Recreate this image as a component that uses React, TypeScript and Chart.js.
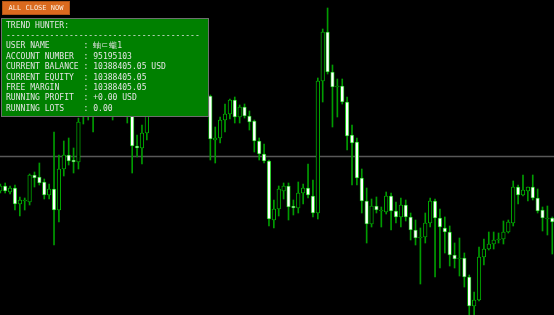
import React, { useEffect, useRef } from "react";
import { Chart, registerables } from "chart.js";

Chart.register(...registerables);

// OHLC price series, oldest bar first
const opens = [
  1.1809, 1.1814, 1.1808, 1.1812, 1.1796, 1.1799, 1.1798, 1.1825, 1.1823, 1.1818,
  1.1805, 1.1811, 1.179, 1.1831, 1.1845, 1.184, 1.1838, 1.1895, 1.1888, 1.1895,
  1.1912, 1.192, 1.1925, 1.1918, 1.19, 1.1908, 1.1915, 1.1904, 1.1854, 1.1852,
  1.1867, 1.189, 1.1905, 1.1915, 1.1908, 1.1925, 1.1932, 1.1922, 1.193, 1.1918,
  1.1924, 1.1912, 1.1916, 1.1904, 1.186, 1.1862, 1.188, 1.1886, 1.19, 1.1883,
  1.1893, 1.1884, 1.1879, 1.1859, 1.1846, 1.1839, 1.178, 1.1791, 1.1809, 1.1814,
  1.1794, 1.1792, 1.1807, 1.1812, 1.1804, 1.1787, 1.1919, 1.1968, 1.1928, 1.1913,
  1.1914, 1.1898, 1.1865, 1.1858, 1.1822, 1.1799, 1.1776, 1.1794, 1.1789, 1.1788,
  1.1804, 1.1789, 1.1783, 1.1795, 1.1783, 1.177, 1.1762, 1.1763, 1.1777, 1.1799,
  1.1782, 1.1772, 1.1768, 1.1745, 1.1741, 1.1742, 1.1723, 1.1694, 1.17, 1.1743,
  1.1751, 1.1756, 1.176, 1.1761, 1.1768, 1.1777, 1.1813, 1.1805, 1.1809, 1.1813,
  1.1802, 1.179, 1.1781, 1.1782,
];
const highs = [
  1.1816, 1.1817, 1.1814, 1.1815, 1.1803, 1.1802, 1.1826, 1.1828, 1.1837, 1.1821,
  1.1816, 1.1868, 1.1845, 1.1859, 1.1862, 1.1852, 1.1882, 1.1905, 1.1908, 1.1918,
  1.193, 1.1934, 1.1932, 1.1924, 1.1915, 1.1922, 1.192, 1.191, 1.1865, 1.1875,
  1.19, 1.191, 1.1922, 1.192, 1.193, 1.194, 1.1938, 1.1934, 1.1936, 1.1928,
  1.193, 1.192, 1.1922, 1.1905, 1.1873, 1.1883, 1.1896, 1.1901, 1.1903, 1.1895,
  1.1896, 1.1889, 1.188, 1.1862, 1.1856, 1.184, 1.18, 1.1814, 1.1817, 1.1817,
  1.18, 1.1818, 1.1816, 1.1836, 1.182, 1.1922, 1.1971, 1.1992, 1.1935, 1.1921,
  1.1921, 1.1903, 1.1875, 1.1862, 1.1831, 1.1812, 1.1801, 1.1803, 1.1793, 1.1808,
  1.1807, 1.1798, 1.1802, 1.18, 1.1787, 1.178, 1.1772, 1.1787, 1.1802, 1.1801,
  1.1791, 1.1783, 1.1774, 1.1757, 1.1762, 1.1747, 1.1725, 1.1708, 1.1753, 1.1761,
  1.1768, 1.1768, 1.1767, 1.1779, 1.178, 1.1819, 1.1815, 1.1825, 1.1813, 1.1825,
  1.1811, 1.1793, 1.1794, 1.1783,
];
const lows = [
  1.1807, 1.1807, 1.1806, 1.179, 1.1784, 1.179, 1.1795, 1.1813, 1.1815, 1.1801,
  1.1801, 1.1755, 1.1778, 1.1824, 1.1835, 1.1827, 1.1831, 1.1876, 1.188, 1.1868,
  1.19, 1.1908, 1.1905, 1.188, 1.1892, 1.1896, 1.1877, 1.1827, 1.1843, 1.1836,
  1.186, 1.1886, 1.19, 1.1902, 1.1904, 1.1918, 1.1916, 1.1914, 1.191, 1.1908,
  1.1905, 1.19, 1.1896, 1.184, 1.1837, 1.1857, 1.1868, 1.1881, 1.1877, 1.1877,
  1.1882, 1.187, 1.1848, 1.184, 1.1837, 1.1774, 1.1772, 1.1784, 1.1801, 1.178,
  1.1785, 1.1787, 1.1796, 1.1802, 1.1783, 1.1781, 1.1898, 1.1926, 1.1873, 1.1883,
  1.1896, 1.185, 1.1815, 1.1815, 1.1787, 1.1757, 1.1773, 1.1787, 1.1773, 1.1786,
  1.177, 1.1777, 1.1773, 1.1779, 1.176, 1.1755, 1.1716, 1.1757, 1.1773, 1.1723,
  1.1732, 1.1747, 1.1734, 1.1732, 1.1724, 1.1713, 1.1684, 1.1684, 1.1699, 1.1735,
  1.175, 1.1751, 1.1757, 1.1756, 1.1767, 1.1774, 1.1796, 1.1804, 1.1799, 1.18,
  1.1787, 1.1769, 1.1765, 1.1746,
];
const closes = [
  1.1814, 1.1809, 1.1812, 1.1796, 1.18, 1.18, 1.1825, 1.1822, 1.1817, 1.1805,
  1.1811, 1.179, 1.1831, 1.1845, 1.1839, 1.1838, 1.1878, 1.1885, 1.19, 1.1912,
  1.192, 1.1925, 1.1918, 1.19, 1.1908, 1.1915, 1.1904, 1.1854, 1.1852, 1.1867,
  1.189, 1.1905, 1.1915, 1.1908, 1.1925, 1.1932, 1.1922, 1.193, 1.1918, 1.1924,
  1.1912, 1.1916, 1.1904, 1.1861, 1.1862, 1.188, 1.1886, 1.19, 1.1883, 1.1893,
  1.1884, 1.1878, 1.1859, 1.1846, 1.1839, 1.1781, 1.1791, 1.1811, 1.1814, 1.1793,
  1.1792, 1.1807, 1.1812, 1.1805, 1.1787, 1.1919, 1.1968, 1.1928, 1.1913, 1.1914,
  1.1898, 1.1864, 1.1857, 1.1822, 1.1799, 1.1776, 1.1794, 1.179, 1.179, 1.1804,
  1.1789, 1.1783, 1.1795, 1.1783, 1.177, 1.1762, 1.1763, 1.1777, 1.1799, 1.1782,
  1.1773, 1.1768, 1.1745, 1.1741, 1.1742, 1.1723, 1.1694, 1.17, 1.1743, 1.1751,
  1.1756, 1.176, 1.1761, 1.1768, 1.1778, 1.1813, 1.1805, 1.181, 1.1813, 1.1802,
  1.1789, 1.1782, 1.1782, 1.1778,
];

// current bid level shown as a horizontal line
const bidPrice = 1.18435;

// visible price / bar window
const priceMin = 1.1685;
const priceMax = 1.2;
const barMin = -0.06;
const barMax = 113.35;

// account info panel
const panelTitle = "TREND HUNTER:";
const panelDivider = "-".repeat(40);
const panelLabels = [
  "USER NAME",
  "ACCOUNT NUMBER",
  "CURRENT BALANCE",
  "CURRENT EQUITY",
  "FREE MARGIN",
  "RUNNING PROFIT",
  "RUNNING LOTS",
];
const panelValues = [
  "蚰ㄷ蠬1",
  "95195103",
  "10388405.05 USD",
  "10388405.05",
  "10388405.05",
  "+0.00 USD",
  "0.00",
];
const buttonLabel = "ALL CLOSE NOW";

const CANDLE_GREEN = "#00c000";
const WICK_GREEN = "#009c00";

function CandleChart() {
  const canvasRef = useRef<HTMLCanvasElement | null>(null);

  useEffect(() => {
    document.body.style.margin = "0";
    const canvas = canvasRef.current;
    if (!canvas) return;

    const idx = opens.map((_, i) => i);
    const bullish = idx.map((i) => closes[i] > opens[i]);

    const chart = new Chart(canvas, {
      type: "bar",
      data: {
        datasets: [
          {
            // candle bodies
            type: "bar",
            data: idx.map((i) => ({ x: i, y: [opens[i], closes[i]] })) as any,
            backgroundColor: bullish.map((b) => (b ? "#000000" : "#ffffff")),
            borderColor: CANDLE_GREEN,
            borderWidth: 0.9,
            borderSkipped: false,
            barThickness: 3.6,
            grouped: false,
            order: 0,
          } as any,
          {
            // high-low wicks
            type: "bar",
            data: idx.map((i) => ({ x: i, y: [lows[i], highs[i]] })) as any,
            backgroundColor: WICK_GREEN,
            borderWidth: 0,
            barThickness: 1,
            grouped: false,
            order: 1,
          } as any,
          {
            type: "line",
            data: [
              { x: barMin, y: bidPrice },
              { x: barMax, y: bidPrice },
            ],
            borderColor: "#585858",
            borderWidth: 1.6,
            pointRadius: 0,
            order: 2,
          } as any,
        ],
      },
      options: {
        responsive: false,
        animation: false,
        events: [],
        layout: { padding: 0 },
        plugins: {
          legend: { display: false },
          tooltip: { enabled: false },
        },
        scales: {
          x: {
            type: "linear",
            display: false,
            min: barMin,
            max: barMax,
            offset: false,
          },
          y: {
            type: "linear",
            display: false,
            min: priceMin,
            max: priceMax,
          },
        },
      },
    });
    return () => chart.destroy();
  }, []);

  return (
    <canvas
      ref={canvasRef}
      width={554}
      height={315}
      style={{ position: "absolute", left: 0, top: 0, width: 554, height: 315 }}
    />
  );
}

const monoFont = "'DejaVu Sans Mono', 'Liberation Mono', monospace";

function InfoPanel() {
  const lines = [
    panelTitle,
    panelDivider,
    ...panelLabels.map((l, i) => l.padEnd(16, " ") + ": " + panelValues[i]),
  ];
  const lineHeight = 10.4;
  return (
    <div
      style={{
        position: "absolute",
        left: 1,
        top: 18,
        width: 206,
        height: 97,
        background: "#008000",
        border: "1px solid #6e6e6e",
      }}
    >
      {lines.map((t, i) => (
        <div
          key={i}
          style={{
            position: "absolute",
            left: 4,
            top: 1.5 + i * lineHeight,
            height: lineHeight,
            lineHeight: lineHeight + "px",
            fontFamily: monoFont,
            fontSize: 8.06,
            color: "#e4e4e4",
            whiteSpace: "pre",
          }}
        >
          {t}
        </div>
      ))}
    </div>
  );
}

function CloseButton() {
  return (
    <div
      style={{
        position: "absolute",
        left: 2,
        top: 1,
        width: 66,
        height: 12,
        background: "#da6a1e",
        border: "1px solid #b05518",
        color: "#fbeee0",
        fontFamily: monoFont,
        fontSize: 7,
        lineHeight: "12px",
        textAlign: "center",
        whiteSpace: "pre",
      }}
    >
      {buttonLabel}
    </div>
  );
}

export default function App() {
  return (
    <div
      style={{
        position: "relative",
        width: 554,
        height: 315,
        background: "#000000",
        overflow: "hidden",
      }}
    >
      <CandleChart />
      <InfoPanel />
      <CloseButton />
    </div>
  );
}
